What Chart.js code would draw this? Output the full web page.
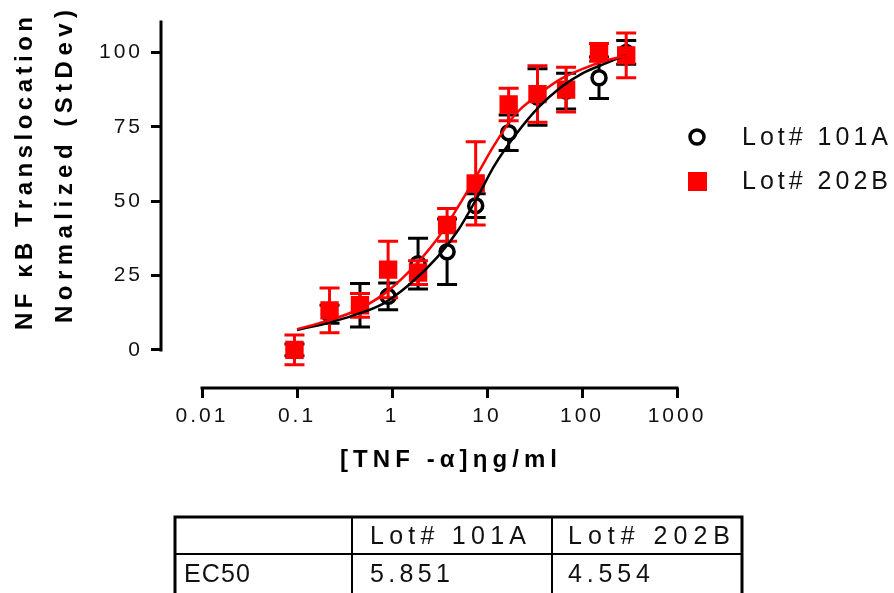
<!DOCTYPE html>
<html><head><meta charset="utf-8">
<script src="https://cdn.jsdelivr.net/npm/chart.js@4.4.1/dist/chart.umd.min.js"></script>
<style>html,body{margin:0;padding:0;background:#fff;}canvas{display:block}</style>
</head><body>
<canvas id="c" width="894" height="593"></canvas>
<script>
// ---- data ----
const doses = [0.094, 0.22, 0.46, 0.91, 1.88, 3.8, 7.6, 16.9, 34, 68, 151, 292];
const lotA = [0, 12, 15, 18, 29, 33, 48.5, 73, 85, 87, 91.5, 100];
const lotAErr = [2, 3, 7.3, 4.5, 8.5, 11, 4, 6, 9.5, 6, 7, 4];
const lotB = [0, 13.3, 15, 27, 26, 42, 56, 82.5, 86, 87.5, 100, 99];
const lotBErr = [5, 7.5, 4, 9.5, 4, 5.5, 14, 5.5, 9.5, 7.5, 3, 7.5];
const curveDoses = [0.1, 0.2, 0.4, 0.8, 1.5, 3, 5, 8, 12, 20, 35, 60, 100, 180, 290];
const curveA = [6.7, 8.9, 11.7, 15.5, 21.8, 31.2, 40.4, 51.6, 62, 72.3, 81.6, 88.3, 92.9, 96.4, 99];
const curveB = [7, 9.6, 13, 18.5, 26.2, 37.4, 48.3, 59.3, 69, 79.3, 85.9, 91.1, 94.4, 97.3, 98.9];
const xTicks = [0.01, 0.1, 1, 10, 100, 1000];
const yTicks = [0, 25, 50, 75, 100];
const seriesNames = ['Lot# 101A', 'Lot# 202B'];
const tableRowLabels = ['EC50'];
const ec50 = ['5.851', '4.554'];
const yTitle = ['NF \u03baB Translocation', 'Normalized (StDev)'];
const xTitle = '[TNF -\u03b1]\u03b7g/ml';

const FONT = "'Liberation Sans', Arial, sans-serif";
const RED = '#ff0000';

function errorBars(chart, vals, errs, color) {
  const xs = chart.scales.x, ys = chart.scales.y, c = chart.ctx;
  c.save();
  c.strokeStyle = color; c.lineWidth = 3; c.lineCap = 'butt';
  vals.forEach((v, i) => {
    const px = xs.getPixelForValue(doses[i]);
    const t = ys.getPixelForValue(v + errs[i]);
    const b = ys.getPixelForValue(v - errs[i]);
    c.beginPath();
    c.moveTo(px, t); c.lineTo(px, b);
    c.moveTo(px - 10, t); c.lineTo(px + 10, t);
    c.moveTo(px - 10, b); c.lineTo(px + 10, b);
    c.stroke();
  });
  c.restore();
}

function fitText(c, text, x, y, target) {
  c.letterSpacing = '0px';
  const w = c.measureText(text).width;
  const sp = Math.max(0, (target - w) / (text.length - 1));
  c.letterSpacing = sp + 'px';
  c.fillText(text, x, y);
}

const custom = {
  id: 'custom',
  beforeDraw(chart) { chart.ctx.letterSpacing = '3px'; },
  beforeDatasetDraw(chart, args) {
    if (args.index === 0) errorBars(chart, lotA, lotAErr, '#000');
    if (args.index === 1) errorBars(chart, lotB, lotBErr, RED);
  },
  afterDraw(chart) {
    const c = chart.ctx, xs = chart.scales.x, ys = chart.scales.y, a = chart.chartArea;
    c.save();
    c.strokeStyle = '#000'; c.lineWidth = 3;
    // axes
    c.beginPath();
    c.moveTo(a.left, ys.getPixelForValue(ys.max));
    c.lineTo(a.left, ys.getPixelForValue(0) + 1.5);
    c.stroke();
    c.beginPath();
    c.moveTo(xs.getPixelForValue(xTicks[0]) - 1.5, a.bottom);
    c.lineTo(xs.getPixelForValue(xTicks[xTicks.length - 1]) + 1.5, a.bottom);
    c.stroke();

    c.fillStyle = '#000';
    // y title
    c.font = 'bold 24px ' + FONT;
    c.textBaseline = 'alphabetic'; c.textAlign = 'left';
    c.save(); c.translate(32, 330); c.rotate(-Math.PI / 2); fitText(c, yTitle[0], 0, 0, 313); c.restore();
    c.save(); c.translate(72, 323); c.rotate(-Math.PI / 2); fitText(c, yTitle[1], 0, 0, 313); c.restore();
    // x title
    fitText(c, xTitle, 340, 467, 217);

    // legend
    c.lineWidth = 3.5; c.strokeStyle = '#000'; c.fillStyle = '#fff';
    c.beginPath(); c.arc(697, 137, 7, 0, Math.PI * 2); c.fill(); c.stroke();
    c.fillStyle = RED; c.fillRect(688, 172, 19, 19);
    c.fillStyle = '#111';
    c.font = '25px ' + FONT; c.textBaseline = 'middle';
    fitText(c, seriesNames[0], 742, 138, 146);
    fitText(c, seriesNames[1], 742, 182, 146);

    // table
    const L = 175, C1 = 352, C2 = 552, R = 742, T = 517, M = 554, B = 600;
    c.strokeStyle = '#000';
    c.lineWidth = 3;
    c.strokeRect(L, T, R - L, B - T);
    c.lineWidth = 2;
    c.beginPath();
    c.moveTo(C1, T); c.lineTo(C1, B);
    c.moveTo(C2, T); c.lineTo(C2, B);
    c.moveTo(L, M); c.lineTo(R, M);
    c.stroke();
    c.fillStyle = '#111';
    fitText(c, seriesNames[0], 370, 537, 156);
    fitText(c, seriesNames[1], 568, 537, 162);
    fitText(c, tableRowLabels[0], 184, 575, 66);
    fitText(c, ec50[0], 370, 575, 80);
    fitText(c, ec50[1], 568, 575, 82);
    c.restore();
  }
};

const gridOpts = { drawOnChartArea: false, drawTicks: true, tickLength: 10, tickWidth: 3, tickColor: '#000' };

new Chart(document.getElementById('c').getContext('2d'), {
  type: 'scatter',
  data: {
    datasets: [
      { label: seriesNames[0], data: doses.map((d, i) => ({ x: d, y: lotA[i] })),
        pointStyle: 'circle', pointRadius: 7, borderColor: '#000', backgroundColor: '#fff', borderWidth: 3.5, order: 5 },
      { label: seriesNames[1], data: doses.map((d, i) => ({ x: d, y: lotB[i] })),
        pointStyle: 'rect', pointRadius: 13, borderColor: RED, backgroundColor: RED, borderWidth: 0, order: 4 },
      { type: 'line', label: seriesNames[0] + ' fit', data: curveDoses.map((d, i) => ({ x: d, y: curveA[i] })),
        showLine: true, borderColor: '#000', borderWidth: 2.5, pointRadius: 0, fill: false, cubicInterpolationMode: 'monotone', order: 3 },
      { type: 'line', label: seriesNames[1] + ' fit', data: curveDoses.map((d, i) => ({ x: d, y: curveB[i] })),
        showLine: true, borderColor: RED, borderWidth: 2.5, pointRadius: 0, fill: false, cubicInterpolationMode: 'monotone', order: 2 }
    ]
  },
  options: {
    responsive: false, animation: false, devicePixelRatio: 1,
    layout: { padding: { left: 0, top: 17, right: 217, bottom: 160 } },
    plugins: { legend: { display: false }, tooltip: { enabled: false } },
    scales: {
      x: {
        type: 'logarithmic', min: 0.0037, max: 1000,
        afterBuildTicks(s) { s.ticks = xTicks.map(v => ({ value: v })); },
        afterFit(s) { s.height = 45; },
        border: { display: false }, grid: gridOpts,
        ticks: { font: { family: FONT, size: 21 }, color: '#111', padding: 6, maxRotation: 0, autoSkip: false,
          callback: v => String(v) }
      },
      y: {
        min: -12.8, max: 110.7,
        afterBuildTicks(s) { s.ticks = yTicks.map(v => ({ value: v })); },
        afterFit(s) { s.width = 161; },
        border: { display: false }, grid: gridOpts,
        ticks: { font: { family: FONT, size: 21 }, color: '#111', padding: 8 }
      }
    }
  },
  plugins: [custom]
});
</script>
</body></html>
